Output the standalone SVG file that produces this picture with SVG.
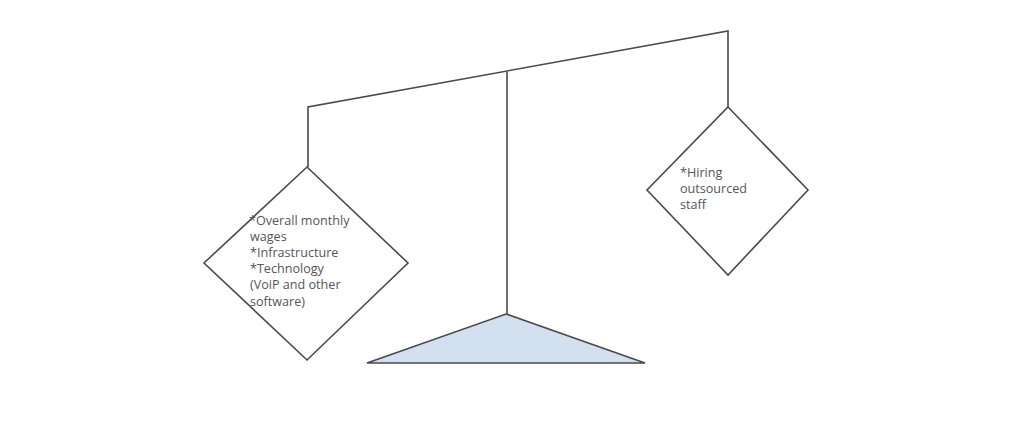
<svg xmlns="http://www.w3.org/2000/svg" width="1024" height="440" viewBox="0 0 1024 440">
<style>
.ln{fill:none;stroke:#4a4a4a;stroke-width:1.6;stroke-linejoin:miter}
.dm{fill:#ffffff;stroke:#4a4a4a;stroke-width:1.6}
.base{fill:#d3e0f0;stroke:#4a4a4a;stroke-width:1.6}
.t{font-family:"Open Sans","Noto Sans",sans-serif;font-size:12.6px;fill:#555555}
</style>
<rect width="1024" height="440" fill="#ffffff"/>
<g id="connectors">
<polyline class="ln" points="308,167 308,107 728,31 728,107"/>
<line class="ln" x1="507" y1="72" x2="507" y2="314"/>
</g>
<g id="base">
<polygon class="base" points="506,314 645,363 367,363"/>
</g>
<g id="left-pan">
<polygon class="dm" points="307,167 408,263 307,360 204,263"/>
<text class="t" x="249" y="225">*Overall monthly</text>
<text class="t" x="250" y="241">wages</text>
<text class="t" x="250" y="257">*Infrastructure</text>
<text class="t" x="250" y="273">*Technology</text>
<text class="t" x="250" y="289">(VoiP and other</text>
<text class="t" x="250" y="306">software)</text>
</g>
<g id="right-pan">
<polygon class="dm" points="728,107 808,190 728,275 647,190"/>
<text class="t" x="680" y="177">*Hiring</text>
<text class="t" x="680" y="193">outsourced</text>
<text class="t" x="680" y="209">staff</text>
</g>
</svg>
